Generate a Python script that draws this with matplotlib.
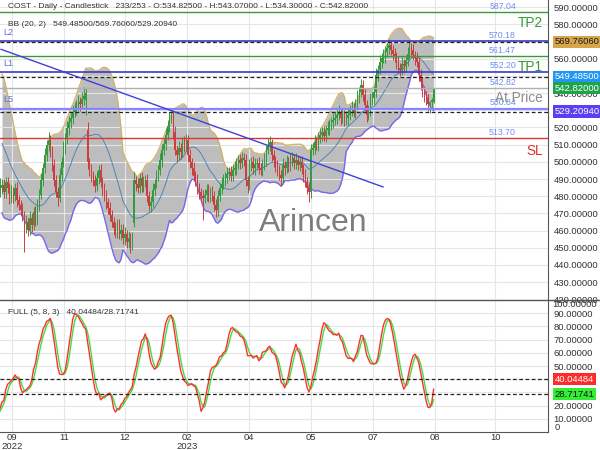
import numpy as np
import pandas as pd
import matplotlib
matplotlib.use('Agg')
import matplotlib.pyplot as plt
import matplotlib.transforms as mtransforms
from matplotlib.lines import Line2D

plt.rcParams['font.family'] = ['Liberation Sans', 'DejaVu Sans']

# Daily COST bars. The first 19 bars are warm-up for the indicators (left of the window).
FIRST_BAR = -19

opens = [
    534.5, 536.0, 538.9, 540.6, 537.2, 533.1, 530.2, 525.5, 521.4, 515.6,
    512.7, 506.9, 501.1, 498.2, 494.1, 490.6, 486.5, 489.4, 483.6,
    485.0, 486.5, 482.5, 488.3, 484.8, 479.0, 482.5, 480.1, 484.8, 477.8,
    474.9, 472.0, 469.1, 461.5, 465.0, 460.3, 467.3, 463.2, 470.8, 466.2,
    474.9, 480.7, 489.4, 496.4, 504.0, 509.8, 512.7, 506.9, 498.2, 489.4,
    482.5, 479.0, 492.4, 499.9, 508.1, 513.9, 519.7, 523.2, 525.5, 529.0,
    531.3, 532.5, 534.8, 533.7, 536.6, 536.0, 518.5, 499.9, 495.3, 491.8,
    489.4, 486.0, 490.6, 495.3, 488.3, 483.6, 480.7, 476.6, 473.1, 469.1,
    465.0, 461.5, 459.2, 463.8, 458.0, 460.3, 455.7, 458.0, 453.4, 455.7,
    452.2, 464.5, 489.5, 487.1, 484.8, 490.6, 486.0, 488.3, 489.4, 480.1,
    474.3, 476.6, 483.6, 487.1, 491.8, 495.3, 501.1, 506.9, 510.4, 515.6,
    520.9, 525.5, 527.9, 517.4, 506.9, 504.0, 508.1, 505.7, 511.6, 509.2,
    512.7, 504.0, 499.9, 496.4, 491.8, 489.4, 484.8, 482.5, 480.1, 479.0,
    480.7, 483.6, 480.1, 482.5, 480.1, 474.9, 472.0, 480.1, 484.8, 487.1,
    489.4, 490.6, 492.9, 494.1, 491.8, 495.3, 496.4, 498.8, 501.1, 499.3,
    502.2, 501.1, 489.4, 486.0, 497.6, 499.9, 496.4, 498.8, 499.3, 496.4,
    495.3, 498.2, 501.1, 506.9, 509.8, 511.6, 504.0, 501.1, 497.6, 495.3,
    492.4, 490.6, 498.2, 496.4, 499.9, 497.6, 501.1, 502.2, 499.3, 501.1,
    498.2, 499.9, 496.4, 492.4, 488.3, 484.8, 482.5, 506.9, 508.1, 511.6,
    509.8, 513.9, 515.6, 517.4, 515.0, 518.5, 519.7, 521.4, 523.2, 524.4,
    525.5, 527.3, 529.0, 525.5, 527.3, 524.4, 525.5, 527.3, 530.2, 531.3,
    529.0, 533.1, 537.7, 540.6, 544.7, 538.9, 533.1, 527.3, 530.2, 536.0,
    537.2, 540.6, 550.6, 553.5, 558.1, 560.4, 561.6, 563.9, 566.3, 568.0,
    565.1, 562.8, 561.6, 558.1, 554.6, 553.5, 556.9, 555.8, 559.3, 562.8,
    566.3, 565.1, 562.2, 560.4, 558.1, 550.6, 546.5, 543.0, 539.5, 537.2,
    533.7, 534.6, 534.825,
]
highs = [
    539.5, 542.8, 543.6, 543.9, 540.2, 536.8, 533.2, 528.3, 525.0, 518.9,
    515.5, 510.6, 504.0, 501.9, 497.0, 494.6, 493.0, 491.7, 490.4,
    490.2, 490.0, 491.4, 491.4, 487.4, 486.8, 485.5, 487.7, 488.0, 480.9,
    478.0, 475.8, 471.6, 468.8, 467.6, 471.6, 470.2, 473.8, 474.1, 478.3,
    484.1, 493.4, 499.5, 507.9, 513.0, 517.1, 515.8, 509.3, 501.5, 492.3,
    485.4, 496.4, 502.9, 511.9, 517.0, 523.8, 526.8, 528.4, 532.9, 534.6,
    535.8, 538.8, 537.6, 540.4, 543.6, 542.8, 523.2, 502.3, 498.9, 494.8,
    492.4, 494.6, 498.4, 498.5, 491.0, 487.4, 483.7, 479.1, 476.5, 472.0,
    468.0, 465.2, 466.8, 467.0, 463.6, 464.0, 461.8, 460.4, 459.7, 458.5,
    459.0, 494.1, 492.0, 490.4, 493.6, 494.2, 491.8, 492.3, 492.7, 483.0,
    479.9, 487.5, 490.1, 495.5, 498.4, 505.2, 510.5, 513.2, 519.5, 524.2,
    528.8, 531.6, 530.4, 520.8, 509.6, 512.3, 511.2, 514.4, 515.0, 516.0,
    515.6, 507.5, 502.4, 499.7, 494.5, 493.1, 487.9, 484.9, 483.5, 484.1,
    487.0, 487.1, 485.5, 485.8, 482.8, 478.6, 483.7, 487.7, 491.0, 492.8,
    494.0, 496.9, 497.1, 497.4, 498.5, 500.6, 502.4, 504.0, 504.5, 505.6,
    505.1, 504.6, 491.9, 501.4, 503.1, 503.6, 502.4, 502.2, 502.7, 499.3,
    501.6, 505.1, 509.9, 513.6, 514.8, 513.2, 507.1, 503.5, 501.0, 498.2,
    495.3, 502.2, 500.7, 503.7, 502.6, 505.3, 505.8, 504.6, 505.0, 504.0,
    503.3, 503.4, 498.9, 495.7, 491.0, 488.5, 510.5, 511.0, 515.5, 514.5,
    517.3, 519.6, 520.4, 520.7, 521.7, 523.9, 525.0, 526.1, 528.3, 528.9,
    530.7, 533.0, 531.5, 531.1, 530.0, 529.7, 530.9, 533.1, 535.2, 534.2,
    536.5, 541.7, 543.6, 548.5, 547.4, 542.6, 536.2, 533.1, 539.9, 540.6,
    544.0, 554.6, 556.5, 561.9, 563.6, 565.8, 567.5, 569.2, 571.5, 569.6,
    568.0, 566.3, 564.1, 561.4, 557.3, 561.1, 560.0, 562.2, 566.7, 570.5,
    569.2, 568.6, 564.7, 563.7, 560.8, 554.3, 549.6, 544.0, 541.0, 540.1,
    535.6, 537.0, 543.07,
]
lows = [
    530.8, 533.3, 535.2, 534.4, 529.8, 526.8, 521.5, 518.1, 511.9, 509.3,
    503.1, 498.0, 494.3, 491.2, 486.8, 483.0, 482.5, 480.3, 479.7,
    481.1, 479.2, 479.0, 481.6, 475.3, 476.2, 475.8, 477.4, 474.0, 471.8,
    468.2, 465.8, 447.5, 458.6, 456.6, 457.5, 459.0, 460.5, 462.4, 463.5,
    471.4, 478.1, 485.9, 493.6, 500.7, 506.4, 502.6, 494.9, 485.7, 479.3,
    474.4, 476.4, 488.9, 497.2, 504.8, 510.6, 515.7, 519.9, 522.0, 526.0,
    527.4, 529.6, 529.7, 531.0, 533.1, 527.0, 495.7, 491.9, 488.0, 486.1,
    482.2, 483.3, 487.0, 485.3, 479.9, 477.3, 472.4, 469.7, 465.3, 461.8,
    457.6, 455.8, 455.7, 455.0, 454.8, 452.2, 451.8, 449.9, 450.1, 447.0,
    448.6, 462.0, 483.2, 481.8, 481.8, 482.6, 482.4, 485.3, 476.5, 471.2,
    471.0, 473.9, 480.1, 484.6, 488.6, 492.2, 497.2, 503.9, 507.0, 512.8,
    517.4, 522.4, 513.4, 504.0, 500.4, 501.0, 501.5, 502.8, 505.5, 506.5,
    500.2, 496.7, 492.4, 488.8, 485.8, 481.4, 478.3, 476.8, 466.2, 476.3,
    477.3, 476.9, 476.5, 477.1, 471.3, 467.9, 468.2, 477.2, 481.5, 484.4,
    485.9, 487.8, 489.3, 488.8, 488.6, 492.3, 492.6, 495.9, 495.6, 496.6,
    497.3, 486.2, 482.0, 483.4, 494.4, 493.0, 492.6, 495.9, 492.7, 492.2,
    491.9, 495.4, 497.5, 504.3, 506.6, 500.6, 496.9, 494.3, 491.6, 489.3,
    486.1, 487.8, 492.4, 493.8, 494.0, 494.6, 497.3, 496.0, 496.0, 495.1,
    494.8, 493.2, 488.4, 485.3, 481.2, 476.8, 478.7, 504.0, 504.8, 506.7,
    506.4, 511.1, 512.0, 512.0, 511.8, 515.5, 515.9, 518.5, 519.9, 521.7,
    522.1, 524.5, 521.5, 522.9, 520.8, 521.4, 521.7, 524.4, 526.9, 525.9,
    525.6, 530.3, 534.1, 538.0, 535.3, 529.7, 523.1, 524.4, 526.9, 533.3,
    533.8, 537.8, 547.0, 550.9, 554.9, 557.4, 557.8, 561.0, 563.0, 562.0,
    559.0, 558.4, 554.1, 551.6, 549.9, 550.5, 551.6, 552.9, 556.0, 560.1,
    561.3, 559.0, 556.4, 555.1, 547.0, 542.0, 538.0, 535.0, 532.8, 529.5,
    528.7, 531.0, 534.3,
]
closes = [
    536.0, 538.9, 540.6, 537.2, 533.1, 530.2, 525.5, 521.4, 515.6, 512.7,
    506.9, 501.1, 498.2, 494.1, 490.6, 486.5, 489.4, 483.6, 486.5,
    486.5, 482.5, 488.3, 484.8, 479.0, 482.5, 480.1, 484.8, 477.8, 474.9,
    472.0, 469.1, 461.5, 465.0, 460.3, 467.3, 463.2, 470.8, 466.2, 474.9,
    480.7, 489.4, 496.4, 504.0, 509.8, 512.7, 506.9, 498.2, 489.4, 482.5,
    479.0, 492.4, 499.9, 508.1, 513.9, 519.7, 523.2, 525.5, 529.0, 531.3,
    532.5, 534.8, 533.7, 536.6, 538.3, 540.1, 499.9, 495.3, 491.8, 489.4,
    486.0, 490.6, 495.3, 488.3, 483.6, 480.7, 476.6, 473.1, 469.1, 465.0,
    461.5, 459.2, 463.8, 458.0, 460.3, 455.7, 458.0, 453.4, 455.7, 452.2,
    455.7, 489.5, 487.1, 484.8, 490.6, 486.0, 488.3, 489.4, 480.1, 474.3,
    476.6, 483.6, 487.1, 491.8, 495.3, 501.1, 506.9, 510.4, 515.6, 520.9,
    525.5, 527.9, 517.4, 506.9, 504.0, 508.1, 505.7, 511.6, 509.2, 512.7,
    504.0, 499.9, 496.4, 491.8, 489.4, 484.8, 482.5, 480.1, 479.0, 480.7,
    483.6, 480.1, 482.5, 480.1, 474.9, 472.0, 480.1, 484.8, 487.1, 489.4,
    490.6, 492.9, 494.1, 491.8, 495.3, 496.4, 498.8, 501.1, 499.3, 502.2,
    501.1, 489.4, 486.0, 497.6, 499.9, 496.4, 498.8, 499.3, 496.4, 495.3,
    498.2, 501.1, 506.9, 509.8, 511.6, 504.0, 501.1, 497.6, 495.3, 492.4,
    490.6, 498.2, 496.4, 499.9, 497.6, 501.1, 502.2, 499.3, 501.1, 498.2,
    499.9, 496.4, 492.4, 488.3, 484.8, 482.5, 506.9, 508.1, 511.6, 509.8,
    513.9, 515.6, 517.4, 515.0, 518.5, 519.7, 521.4, 523.2, 524.4, 525.5,
    527.3, 529.0, 525.5, 527.3, 524.4, 525.5, 527.3, 530.2, 531.3, 529.0,
    533.1, 537.7, 540.6, 544.7, 538.9, 533.1, 527.3, 530.2, 536.0, 537.2,
    540.6, 550.6, 553.5, 558.1, 560.4, 561.6, 563.9, 566.3, 568.0, 565.1,
    562.8, 561.6, 558.1, 554.6, 553.5, 556.9, 555.8, 559.3, 562.8, 566.3,
    565.1, 562.2, 560.4, 558.1, 550.6, 546.5, 543.0, 539.5, 537.2, 533.7,
    534.6, 536.2, 542.82,
]

# drawn levels
tp2 = 587.04
l2 = 570.18
tp1_line = 561.47
l1 = 552.20
at_price = 542.82
l5 = 530.84
sl = 513.70

# current indicator values as printed by the chart
bb_now = [549.48500, 569.76060, 529.20940]
stoch_now = [40.04484, 28.71741]

# trendline end points (bar, price)
trend_x = [-0.5, 204.8]
trend_y = [565.5, 485.4]

tick_bars = [5.4, 33.3, 66.1, 99.5, 132.8, 166.1, 199.5, 232.8, 265.1]
tick_labels = ['09\n2022', '11', '12', '02\n2023', '04', '05', '07', '08', '10']

df = pd.DataFrame({'o': opens, 'h': highs, 'l': lows, 'c': closes})
df['x'] = np.arange(len(df)) + FIRST_BAR

# Bollinger bands (20, 2)
mid = df['c'].rolling(20).mean()
sd = df['c'].rolling(20).std(ddof=0)
upper = mid + 2 * sd
lower = mid - 2 * sd

# Full stochastic (5, 8, 3)
hh = df['h'].rolling(5).max()
ll = df['l'].rolling(5).min()
raw_k = 100 * (df['c'] - ll) / (hh - ll)
full_k = raw_k.rolling(8).mean()
full_d = full_k.rolling(3).mean()

W, H = 600, 450
fig = plt.figure(figsize=(6, 4.5), dpi=100)
ax = fig.add_axes([0, 1 - 299.3 / H, 548 / W, 299.3 / H])
ax2 = fig.add_axes([0, 18 / H, 548 / W, 132 / H])

XLIM = (-1.08, 293.5)
for a in (ax, ax2):
    a.set_xlim(*XLIM)
    a.set_xticks(tick_bars)
    a.grid(True, color='#e6e6e6', lw=0.8, zorder=0)
    a.yaxis.tick_right()
    a.tick_params(axis='y', length=0, pad=4, labelsize=6.8, colors='#333333')
    for s in ('left', 'top'):
        a.spines[s].set_visible(False)
    a.spines['right'].set_color('#555555')

ax.set_ylim(420, 594.2)
ax.set_yticks(np.arange(420, 591, 10))
ax.set_yticklabels(['%.5f' % v for v in np.arange(420, 591, 10)])
ax.spines['bottom'].set_visible(False)
ax.tick_params(axis='x', length=0, labelbottom=False)

# band
ok = df['x'] >= 0
ax.fill_between(df['x'][ok], lower[ok], upper[ok], color='#a4a4a4', alpha=0.72, lw=0, zorder=1)
ax.plot(df['x'][ok], upper[ok], color='#d3b36a', lw=1, zorder=2)
ax.plot(df['x'][ok], lower[ok], color='#7468f0', lw=1, zorder=2)
ax.plot(df['x'][ok], mid[ok], color='#4f86b8', lw=0.7, zorder=2)

# candles
up = df['c'] >= df['o']
col = np.where(up, '#339a3f', '#cc3d3d')
ax.vlines(df['x'], df['l'], df['h'], colors=col, lw=0.7, zorder=3)
body_lo = np.minimum(df['o'], df['c'])
body_h = np.maximum((df['c'] - df['o']).abs(), 0.3)
ax.bar(df['x'], body_h, bottom=body_lo, width=0.7, color=col, lw=0, zorder=3)

# levels
blended = mtransforms.blended_transform_factory(ax.transAxes, ax.transData)
ax.axhline(tp2, color='#3c9a3c', lw=1, zorder=4)
ax.axhline(tp1_line, color='#3c9a3c', lw=1, zorder=4)
ax.axhline(l2, color='#3a3ac8', lw=1.2, zorder=4)
ax.axhline(l1, color='#3a3ac8', lw=1.2, zorder=4)
ax.axhline(l5, color='#8585ff', lw=1.6, zorder=4)
ax.axhline(at_price, color='#b0b0b0', lw=1, zorder=4)
ax.axhline(sl, color='#e03535', lw=1, zorder=4)
for v in bb_now:
    ax.axhline(v, color='#222222', lw=0.9, ls=(0, (3, 2)), zorder=4)
ax.plot(trend_x, trend_y, color='#4040d8', lw=1, zorder=5)

for v in (tp2, l2, tp1_line, l1, at_price, l5, sl):
    ax.annotate('%.2f' % v, xy=(516 / 548, v), xycoords=blended, xytext=(0, 1.2),
                textcoords='offset points', ha='right', va='bottom',
                fontsize=6.3, color='#6f8ff0', zorder=6)

for lab, v in (('L2', l2), ('L1', l1), ('L5', l5)):
    ax.annotate(lab, xy=(3 / 548, v), xycoords=blended, xytext=(0, 6.5),
                textcoords='offset points', ha='left', va='center',
                fontsize=6.5, color='#5b6fe0', zorder=6)

big = dict(xycoords=blended, textcoords='offset points', ha='right', va='center', fontsize=9.8, zorder=6)
ax.annotate('TP2', xy=(543 / 548, tp2), xytext=(0, -8), color='#2f9a2f', **big)
ax.annotate('TP1', xy=(543 / 548, l1), xytext=(0, 3.6), color='#2f9a2f', **big)
ax.annotate('At Price', xy=(543 / 548, l5), xytext=(0, 8), color='#8c8c8c', **big)
ax.annotate('SL', xy=(543 / 548, sl), xytext=(0, -9), color='#e03030', **big)

ax.text(313 / 548, 0.255, 'Arincen', transform=ax.transAxes, ha='center', va='center',
        fontsize=23, color='#707070', alpha=0.9, zorder=6)

# value tags on the price scale
tags = [(bb_now[1], '#d8a64a', '#1a1a1a'), (bb_now[0], '#2196f3', 'white'),
        (at_price, '#1ea34b', 'white'), (bb_now[2], '#5b3ff0', 'white')]
for v, bg, fg in tags:
    ax.text(1.012, v, '%.5f' % v, transform=blended, ha='left', va='center',
            fontsize=6.8, color=fg, clip_on=False, zorder=10,
            bbox=dict(boxstyle='square,pad=0.18', fc=bg, ec='none'))

# stochastic panel
ax2.set_ylim(0, 100)
ax2.set_yticks(np.arange(10, 91, 10))
ax2.set_yticklabels(['%.5f' % v for v in np.arange(10, 91, 10)])
ax2.spines['bottom'].set_color('#555555')
ax2.set_xticklabels(tick_labels)
ax2.tick_params(axis='x', length=0, pad=1, labelsize=6.8, colors='#333333')
for t in ax2.get_xticklabels():
    t.set_linespacing(0.95)
ax2.plot(df['x'], full_d, color='#44dd44', lw=1, zorder=3)
ax2.plot(df['x'], full_k, color='#ff3030', lw=1, zorder=4)
for v in stoch_now:
    ax2.axhline(v, color='#222222', lw=0.9, ls=(0, (3, 2)), zorder=5)
b2 = mtransforms.blended_transform_factory(ax2.transAxes, ax2.transData)
ax2.text(1.008, 100, '100.00000', transform=b2, ha='left', va='top', fontsize=6.8, color='#333333')
ax2.text(1.012, 0, '0', transform=b2, ha='left', va='bottom', fontsize=6.8, color='#333333')
ax2.text(1.012, stoch_now[0], '%.5f' % stoch_now[0], transform=b2, ha='left', va='center',
         fontsize=6.8, color='white', clip_on=False, zorder=10,
         bbox=dict(boxstyle='square,pad=0.18', fc='#ff2b2b', ec='none'))
ax2.text(1.012, stoch_now[1], '%.5f' % stoch_now[1], transform=b2, ha='left', va='center',
         fontsize=6.8, color='#111111', clip_on=False, zorder=10,
         bbox=dict(boxstyle='square,pad=0.18', fc='#33ee33', ec='none'))

# panel separator across the full width
fig.add_artist(Line2D([0, 1], [1 - 300 / H, 1 - 300 / H], transform=fig.transFigure,
                      color='#555555', lw=1))

# header texts
fig.text(8 / W, 1 - 6 / H, 'COST - Daily - Candlestick   233/253 - O:534.82500 - H:543.07000 - '
         'L:534.30000 - C:542.82000', fontsize=6, color='#333333', va='center')
fig.text(8 / W, 1 - 25 / H, 'BB (20, 2)   549.48500/569.76060/529.20940',
         fontsize=6, color='#333333', va='center')
fig.text(8 / W, 1 - 312 / H, 'FULL (5, 8, 3)   40.04484/28.71741',
         fontsize=6, color='#333333', va='center')

fig.savefig('out.png', dpi=100)
